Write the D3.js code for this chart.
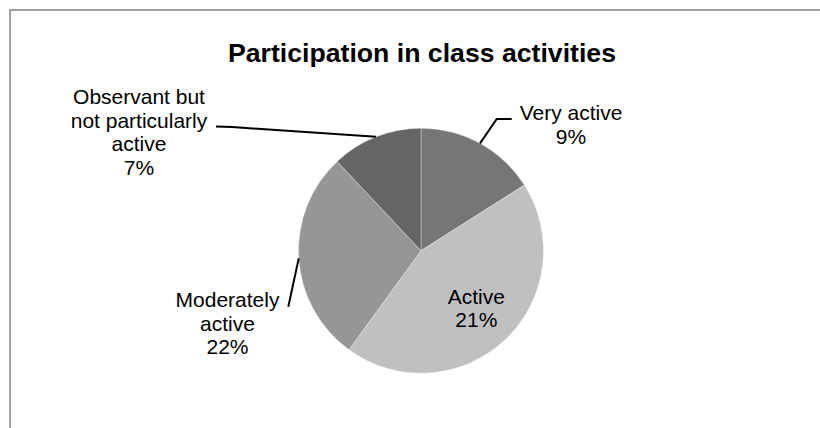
<!DOCTYPE html>
<html>
<head>
<meta charset="utf-8">
<script src="https://cdn.jsdelivr.net/npm/d3@7"></script>
<style>
  body { margin: 0; background: #fff; }
  text { font-family: "Liberation Sans", Arial, sans-serif; fill: #000; }
</style>
</head>
<body>
<div id="chart"></div>
<script>
var categories = ["Very active", "Active", "Moderately active", "Observant but not particularly active"];
var shares = [16, 44, 28, 12];
var percentLabels = ["9%", "21%", "22%", "7%"];
var labelLines = [["Very active"], ["Active"], ["Moderately", "active"], ["Observant but", "not particularly", "active"]];
var colors = ["#767676", "#c0c0c0", "#969696", "#656565"];

var width = 820, height = 428;
var cx = 421, cy = 250.7, radius = 122.5;
var lineH = 23.5;

// label placement relative to pie centre (layout only)
var labelLayout = [
  {x: 150, y: -130.7, leader: [[75.7, -131.7], [90.7, -131.7]]},
  {inside: true, k: 0.66},
  {x: -193.5, y: 56.6, leader: [[-132.7, 56]]},
  {x: -282, y: -146.7, leader: [[-189, -123.7], [-205, -124.2]]}
];

var svg = d3.select("#chart").append("svg")
  .attr("width", width)
  .attr("height", height);

// chart frame (runs off the right and bottom edge)
svg.append("rect")
  .attr("x", 10).attr("y", 10)
  .attr("width", 830).attr("height", 440)
  .attr("fill", "none")
  .attr("stroke", "#a0a0a0")
  .attr("stroke-width", 2);

svg.append("text")
  .attr("x", 422).attr("y", 62)
  .attr("text-anchor", "middle")
  .attr("font-size", 25)
  .attr("font-weight", "bold")
  .attr("textLength", 388)
  .attr("lengthAdjust", "spacingAndGlyphs")
  .text("Participation in class activities");

var pie = d3.pie().sort(null).value(function(d) { return d; });
var arcs = pie(shares);
var arc = d3.arc().innerRadius(0).outerRadius(radius);

var g = svg.append("g").attr("transform", "translate(" + cx + "," + cy + ")");

g.selectAll("path.slice")
  .data(arcs)
  .enter().append("path")
  .attr("class", "slice")
  .attr("d", arc)
  .attr("fill", function(d, i) { return colors[i]; })
  .attr("stroke", "#ffffff")
  .attr("stroke-opacity", 0.35)
  .attr("stroke-width", 1);

arcs.forEach(function(d, i) {
  var lay = labelLayout[i];
  var lines = labelLines[i].concat([percentLabels[i]]);
  var tx, ty;
  if (lay.inside) {
    var a = (d.startAngle + d.endAngle) / 2;
    var rr = radius * lay.k;
    tx = Math.sin(a) * rr;
    ty = -Math.cos(a) * rr - (lines.length - 1) * lineH / 2 + 6;
  } else {
    tx = lay.x; ty = lay.y;
    var mid = (d.startAngle + d.endAngle) / 2;
    var pts = [[Math.sin(mid) * radius, -Math.cos(mid) * radius]].concat(lay.leader);
    g.append("path")
      .attr("d", d3.line()(pts))
      .attr("fill", "none")
      .attr("stroke", "#000")
      .attr("stroke-width", 2);
  }
  var t = g.append("text")
    .attr("text-anchor", "middle")
    .attr("font-size", 21);
  lines.forEach(function(s, j) {
    t.append("tspan")
      .attr("x", tx)
      .attr("y", ty + j * lineH)
      .text(s);
  });
});
</script>
</body>
</html>
